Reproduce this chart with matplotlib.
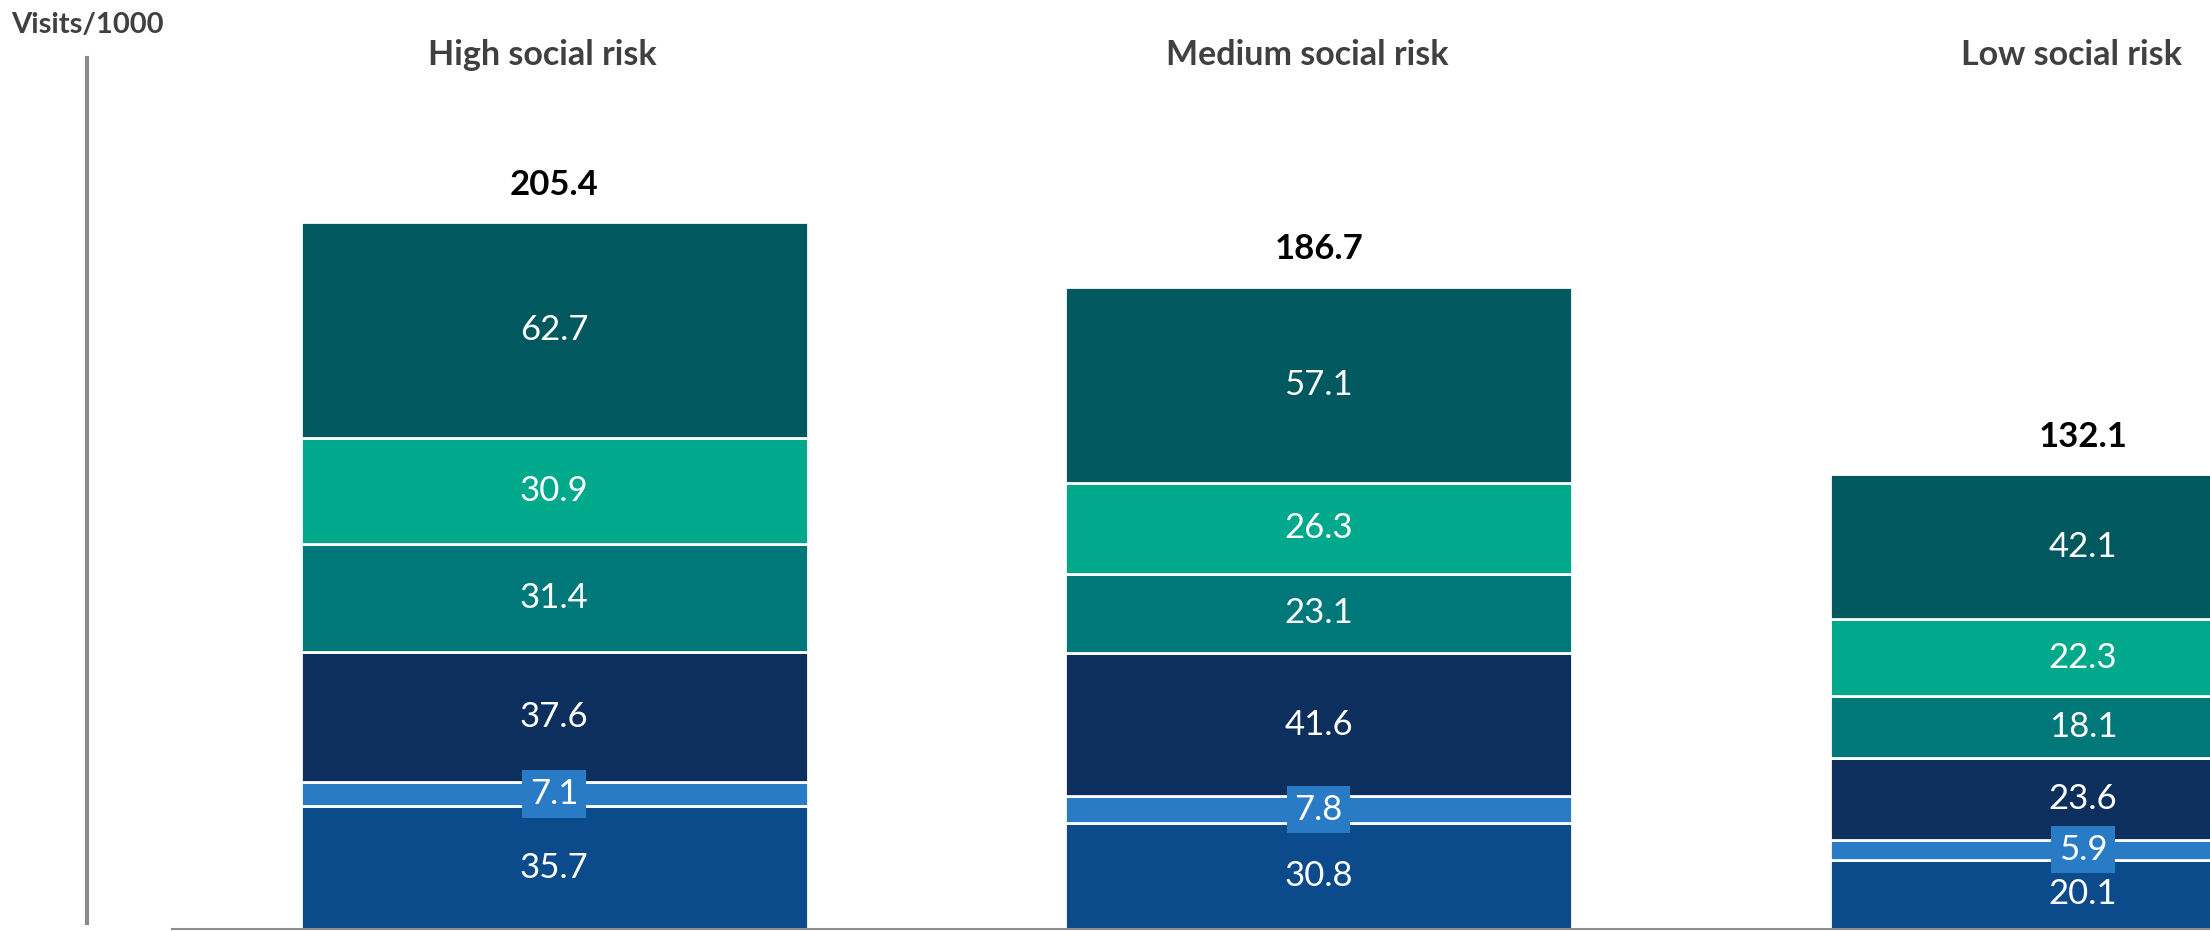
import matplotlib.pyplot as plt
import numpy as np

plt.rcParams['font.family'] = ['Lato', 'DejaVu Sans']

# Visits per 1000, stacked bottom to top
groups = ['High social risk', 'Medium social risk', 'Low social risk']
seg1 = [35.7, 30.8, 20.1]
seg2 = [7.1, 7.8, 5.9]
seg3 = [37.6, 41.6, 23.6]
seg4 = [31.4, 23.1, 18.1]
seg5 = [30.9, 26.3, 22.3]
seg6 = [62.7, 57.1, 42.1]
totals = [205.4, 186.7, 132.1]

segments = [seg1, seg2, seg3, seg4, seg5, seg6]
colors = ['#0B4A8B', '#287BC4', '#0D2F5E', '#00787A', '#00A88C', '#01585E']

W, H = 2210, 931
fig = plt.figure(figsize=(W / 100, H / 100), dpi=100)
ax = fig.add_axes([87 / W, 2 / H, 1 - 87 / W, 929 / H])

x = np.arange(len(groups))
bar_width = 0.663
bottom = np.zeros(len(groups))
for vals, col in zip(segments, colors):
    bars = ax.bar(x, vals, bar_width, bottom=bottom, color=col,
                  edgecolor='white', linewidth=2)
    for bar, v, b in zip(bars, vals, bottom):
        cy = b + v / 2
        small = v < 10
        ax.text(bar.get_x() + bar.get_width() / 2, cy, f'{v:.1f}',
                ha='center', va='center', color='white', fontsize=25,
                bbox=dict(boxstyle='square,pad=0.22', fc=col, ec='none') if small else None)
    bottom += np.array(vals)

# totals above each stack
for xi, t in zip(x, totals):
    ax.annotate(f'{t:.1f}', xy=(xi, t), xytext=(0, 27), textcoords='offset points',
                ha='center', va='center', fontsize=25, fontweight='bold', color='black')

# group titles along the top
for xi, g in zip(x, groups):
    ax.text(xi - 0.015, 254, g, ha='center', va='center', fontsize=24.5,
            fontweight='bold', color='#404040')

fig.text(11 / W, 1 - 25 / H, 'Visits/1000', ha='left', va='center', fontsize=21,
         fontweight='bold', color='#404040')

ax.set_xlim(-0.611, 2.166)
ax.set_ylim(0, 270)

for s in ['top', 'right']:
    ax.spines[s].set_visible(False)
ax.spines['left'].set_color('#8C8C8C')
ax.spines['left'].set_linewidth(3)
ax.spines['left'].set_bounds(1.8, 253)
ax.spines['bottom'].set_color('#8C8C8C')
ax.spines['bottom'].set_linewidth(1.5)
ax.spines['bottom'].set_bounds(-0.5, 2.166)
ax.set_xticks([])
ax.set_yticks([])

fig.savefig('out.png', dpi=100)
